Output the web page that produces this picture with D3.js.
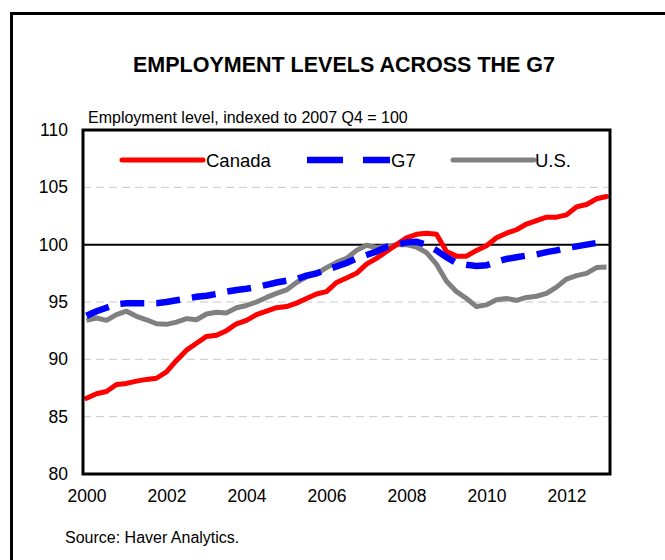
<!DOCTYPE html>
<html>
<head>
<meta charset="utf-8">
<script src="https://cdn.jsdelivr.net/npm/d3@7"></script>
<style>
  body { margin: 0; background: #fff; }
  svg { display: block; font-family: Arial, "Liberation Sans", sans-serif; }
</style>
</head>
<body>
<svg id="chart" width="665" height="560"></svg>
<script>
// quarterly data, 2000 Q1 .. 2013 Q1
var years = [2000, 2002, 2004, 2006, 2008, 2010, 2012];
var yTicks = [80, 85, 90, 95, 100, 105, 110];
var canada = [86.6, 87.0, 87.2, 87.8, 87.9, 88.1, 88.25, 88.35, 88.9, 89.9, 90.8, 91.4, 92.0, 92.1,
  92.5, 93.1, 93.4, 93.9, 94.2, 94.5, 94.6, 94.9, 95.3, 95.7, 95.9, 96.7, 97.1, 97.5, 98.3, 98.8,
  99.4, 100.0, 100.6, 100.9, 101.0, 100.9, 99.4, 99.0, 99.0, 99.5, 99.9, 100.6, 101.0, 101.3,
  101.8, 102.1, 102.4, 102.4, 102.6, 103.3, 103.5, 104.0, 104.2];
var g7 = [93.8, 94.2, 94.5, 94.8, 94.9, 94.9, 94.9, 94.9, 95.0, 95.15, 95.3, 95.45, 95.55, 95.7,
  95.9, 96.05, 96.15, 96.3, 96.5, 96.7, 96.85, 97.0, 97.3, 97.5, 97.8, 98.1, 98.4, 98.8, 99.1, 99.4,
  99.8, 100.0, 100.2, 100.25, 100.0, 99.5, 98.9, 98.4, 98.25, 98.15, 98.2, 98.5, 98.75, 98.9,
  99.05, 99.15, 99.35, 99.5, 99.7, 99.85, 100.0, 100.15, 100.35];
var us = [93.4, 93.6, 93.4, 93.9, 94.2, 93.75, 93.45, 93.1, 93.05, 93.25, 93.55, 93.45, 93.95, 94.1,
  94.05, 94.5, 94.7, 95.0, 95.4, 95.75, 96.05, 96.7, 97.2, 97.45, 98.0, 98.45, 98.8, 99.5, 99.95, 99.75,
  99.85, 100.0, 100.0, 99.8, 99.3, 98.3, 96.8, 95.9, 95.3, 94.6, 94.75, 95.2, 95.3, 95.15,
  95.4, 95.5, 95.75, 96.3, 97.0, 97.3, 97.5, 98.0, 98.05];

var svg = d3.select("#chart");

// outer frame
svg.append("rect")
  .attr("x", 11.5).attr("y", 13.5)
  .attr("width", 700).attr("height", 600)
  .attr("fill", "none").attr("stroke", "#000").attr("stroke-width", 3);

svg.append("text")
  .attr("x", 344).attr("y", 72)
  .attr("text-anchor", "middle")
  .attr("font-size", 21.5).attr("font-weight", "bold")
  .text("EMPLOYMENT LEVELS ACROSS THE G7");

svg.append("text")
  .attr("x", 88).attr("y", 123)
  .attr("font-size", 16)
  .text("Employment level, indexed to 2007 Q4 = 100");

var pLeft = 83, pRight = 610, pTop = 130, pBottom = 474;

// x in quarter index, 0 = 2000 Q1
var x = d3.scaleLinear().domain([-0.35, 52.35]).range([pLeft, pRight]);
var y = d3.scaleLinear().domain([80, 110]).range([pBottom, pTop]);

// grid
svg.append("g").selectAll("line")
  .data(yTicks.filter(function (d) { return d != 80 && d != 100 && d != 110; }))
  .join("line")
  .attr("x1", pLeft).attr("x2", pRight)
  .attr("y1", function (d) { return y(d); }).attr("y2", function (d) { return y(d); })
  .attr("stroke", "#c8c8c8").attr("stroke-width", 1).attr("stroke-dasharray", "8,5");

svg.append("line")
  .attr("x1", pLeft).attr("x2", pRight)
  .attr("y1", y(100)).attr("y2", y(100))
  .attr("stroke", "#000").attr("stroke-width", 2);

// axes
var yAxis = d3.axisLeft(y).tickValues(yTicks).tickSize(0).tickPadding(15);
var gy = svg.append("g").attr("transform", "translate(" + pLeft + ",0)").call(yAxis);
gy.select(".domain").remove();
gy.selectAll("text").attr("font-size", 17.5).attr("font-family", null).attr("fill", "#000");

var xAxis = d3.axisBottom(x)
  .tickValues(years.map(function (d) { return (d - 2000) * 4; }))
  .tickFormat(function (d) { return 2000 + d / 4; })
  .tickSize(0).tickPadding(16);
var gx = svg.append("g").attr("transform", "translate(0," + pBottom + ")").call(xAxis);
gx.select(".domain").remove();
gx.selectAll("text").attr("font-size", 17.5).attr("font-family", null).attr("fill", "#000");

var line = d3.line()
  .x(function (d, i) { return x(i); })
  .y(function (d) { return y(d); });

svg.append("path").datum(us)
  .attr("d", line).attr("fill", "none")
  .attr("stroke", "#808080").attr("stroke-width", 5).attr("stroke-linejoin", "round");
svg.append("path").datum(canada)
  .attr("d", line).attr("fill", "none")
  .attr("stroke", "#ff0000").attr("stroke-width", 5).attr("stroke-linejoin", "round").attr("stroke-linecap", "round");
svg.append("path").datum(g7)
  .attr("d", line).attr("fill", "none")
  .attr("stroke", "#0000ff").attr("stroke-width", 6.5).attr("stroke-dasharray", "24,12");

// plot border
svg.append("rect")
  .attr("x", pLeft).attr("y", pTop)
  .attr("width", pRight - pLeft).attr("height", pBottom - pTop)
  .attr("fill", "none").attr("stroke", "#000").attr("stroke-width", 3);

// legend
var legend = [
  { name: "Canada", color: "#ff0000", x1: 122, x2: 203, tx: 206, dash: null, w: 5 },
  { name: "G7", color: "#0000ff", x1: 307, x2: 390, tx: 391, dash: "36,20", w: 6.5 },
  { name: "U.S.", color: "#808080", x1: 453, x2: 534, tx: 535, dash: null, w: 5 }
];
var lg = svg.append("g").selectAll("g").data(legend).join("g");
lg.append("line")
  .attr("x1", function (d) { return d.x1; }).attr("x2", function (d) { return d.x2; })
  .attr("y1", 160).attr("y2", 160)
  .attr("stroke", function (d) { return d.color; })
  .attr("stroke-width", function (d) { return d.w; })
  .attr("stroke-dasharray", function (d) { return d.dash; })
  .attr("stroke-linecap", function (d) { return d.dash ? "butt" : "round"; });
lg.append("text")
  .attr("x", function (d) { return d.tx; }).attr("y", 167)
  .attr("font-size", 18.5)
  .text(function (d) { return d.name; });

svg.append("text")
  .attr("x", 65).attr("y", 543)
  .attr("font-size", 16)
  .text("Source: Haver Analytics.");
</script>
</body>
</html>
